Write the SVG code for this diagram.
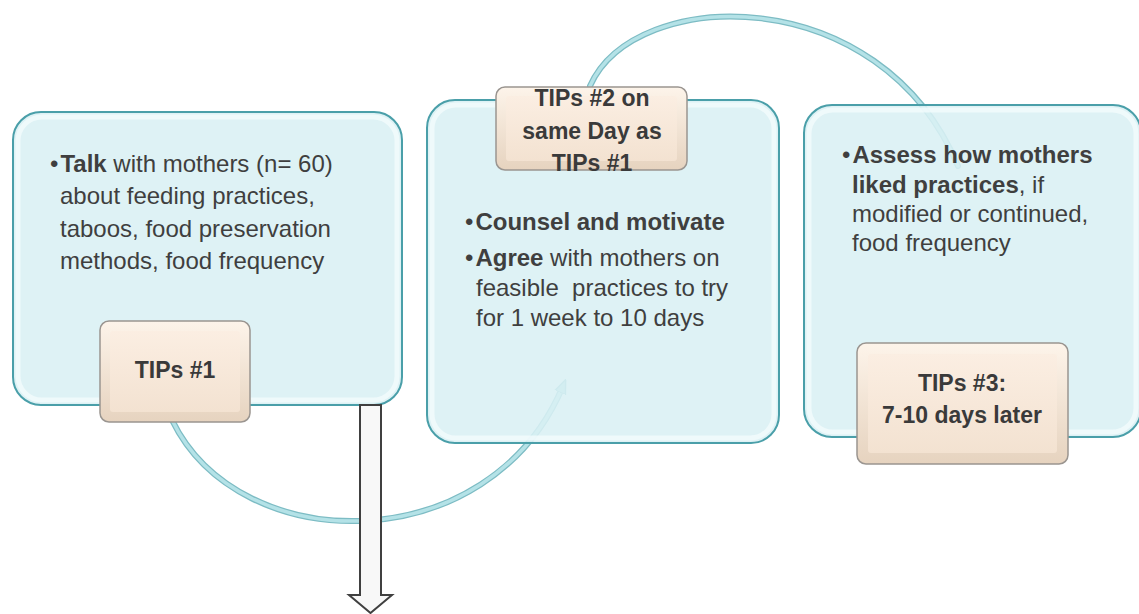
<svg xmlns="http://www.w3.org/2000/svg" width="1139" height="614" viewBox="0 0 1139 614">
<style>
.box{fill:#d9f0f4;fill-opacity:0.88;stroke:#4a9fa9;stroke-width:2}
.bevel{fill:none;stroke:#f2fbfd;stroke-width:5;stroke-opacity:0.8}
.lbl{fill:url(#tan);stroke:#9a9590;stroke-width:1.5}
.lblin{fill:url(#tan2);stroke:none}
.t{font-family:"Liberation Sans",Arial,sans-serif;font-size:24px;fill:#3f3f3f;white-space:pre}
.lt{font-family:"Liberation Sans",Arial,sans-serif;font-size:23px;font-weight:bold;fill:#3a3a3a;text-anchor:middle}
.b{font-weight:bold}
.arcO{fill:none;stroke:#7dbcc4;stroke-width:6;stroke-linecap:round}
.arcI{fill:none;stroke:#b4e2e7;stroke-width:3.5;stroke-linecap:round}
</style>
<defs>
<linearGradient id="tan" x1="0" y1="0" x2="0" y2="1">
<stop offset="0" stop-color="#fdf4ea"/>
<stop offset="1" stop-color="#e6d3bf"/>
</linearGradient>
<linearGradient id="tan2" x1="0" y1="0" x2="0" y2="1">
<stop offset="0" stop-color="#fbeee2"/>
<stop offset="1" stop-color="#f3e2d1"/>
</linearGradient>
<marker id="ah" viewBox="0 0 10 10" refX="5" refY="5" markerWidth="4" markerHeight="4" orient="auto">
<path d="M0,1 L10,5 L0,9 z" fill="#a5d9df" stroke="#7dbcc4" stroke-width="1"/>
</marker>
</defs>
<g id="connectors">
<path class="arcO" d="M172,420 C240,560 490,560 563,386"/>
<path class="arcI" d="M172,420 C240,560 490,560 563,386" marker-end="url(#ah)"/>
<path class="arcO" d="M590,86 C635,-15 880,-20 958,166"/>
<path class="arcI" d="M590,86 C635,-15 880,-20 958,166"/>
</g>
<g id="box1">
<rect class="box" x="13" y="112" width="389" height="293" rx="28"/>
<rect class="bevel" x="18" y="117" width="379" height="283" rx="24"/>
<text class="t" x="50" y="172">•<tspan class="b" dx="2">Talk</tspan> with mothers (n= 60)</text>
<text class="t" x="60" y="204">about feeding practices,</text>
<text class="t" x="60" y="237">taboos, food preservation</text>
<text class="t" x="60" y="269">methods, food frequency</text>
</g>
<g id="box2">
<rect class="box" x="427" y="100" width="352" height="343" rx="28"/>
<rect class="bevel" x="432" y="105" width="342" height="333" rx="24"/>
<text class="t" x="465" y="230">•<tspan class="b" dx="2">Counsel and motivate</tspan></text>
<text class="t" x="465" y="266">•<tspan class="b" dx="2">Agree</tspan> with mothers on</text>
<text class="t" x="476" y="296">feasible  practices to try</text>
<text class="t" x="476" y="326">for 1 week to 10 days</text>
</g>
<g id="box3">
<rect class="box" x="804" y="105" width="337" height="332" rx="28"/>
<rect class="bevel" x="809" y="110" width="327" height="322" rx="24"/>
<text class="t" x="842" y="163">•<tspan class="b" dx="2">Assess how mothers</tspan></text>
<text class="t" x="852" y="193"><tspan class="b">liked practices</tspan>, if</text>
<text class="t" x="852" y="222">modified or continued,</text>
<text class="t" x="852" y="251">food frequency</text>
</g>
<g id="arrow-down">
<path d="M360,405 L381,405 L381,595 L392,595 L370.5,613 L349,595 L360,595 Z" fill="#f8f8f8" stroke="#404040" stroke-width="2" stroke-linejoin="miter"/>
</g>
<g id="tips1">
<rect class="lbl" x="100" y="321" width="150" height="101" rx="9"/>
<rect class="lblin" x="110" y="331" width="130" height="81" rx="3"/>
<text class="lt" x="175" y="378">TIPs #1</text>
</g>
<g id="tips2">
<rect class="lbl" x="496" y="87" width="191" height="83" rx="9"/>
<rect class="lblin" x="506" y="96" width="171" height="65" rx="3"/>
<text class="lt" x="592" y="106">TIPs #2 on</text>
<text class="lt" x="592" y="139">same Day as</text>
<text class="lt" x="592" y="171">TIPs #1</text>
</g>
<g id="tips3">
<rect class="lbl" x="857" y="343" width="211" height="121" rx="9"/>
<rect class="lblin" x="868" y="354" width="189" height="99" rx="3"/>
<text class="lt" x="962" y="391">TIPs #3:</text>
<text class="lt" x="962" y="423">7-10 days later</text>
</g>
</svg>
